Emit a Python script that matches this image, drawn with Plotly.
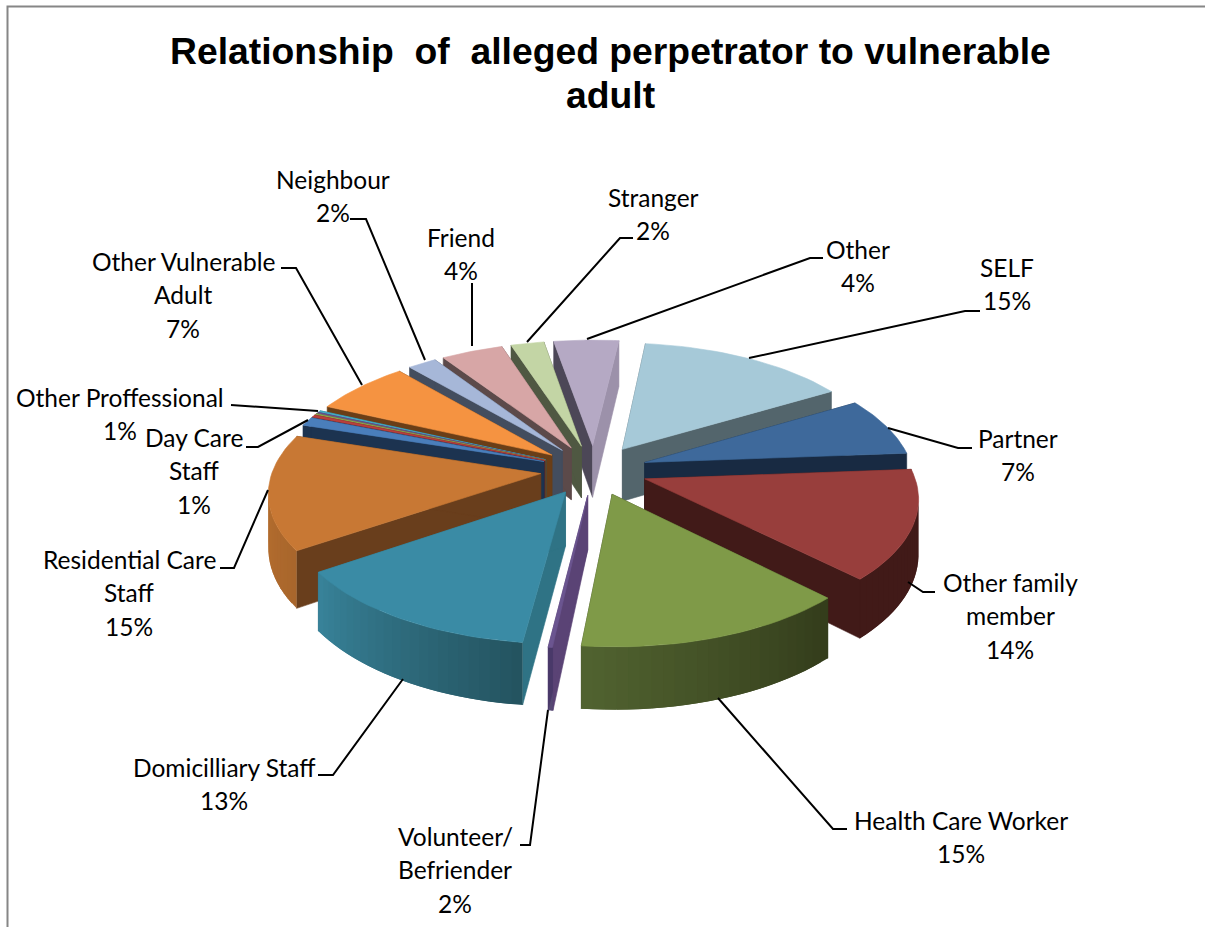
import math
import plotly.graph_objects as go

# ---- data -------------------------------------------------------------
categories = ["SELF", "Partner", "Other family member", "Health Care Worker",
              "Volunteer/ Befriender", "Domicilliary Staff", "Residential Care Staff",
              "Day Care Staff", "Unlabelled A", "Unlabelled B", "Unlabelled C",
              "Other Proffessional", "Other Vulnerable Adult", "Neighbour",
              "Friend", "Stranger", "Other"]
values = [14.6, 7.4, 13.8, 14.1, 0.25, 13.5, 14.54, 1.1, 0.28, 0.17, 0.17, 0.22, 6.8, 2.0, 4.3, 2.3, 4.5]

top_colors = ["#A6C9D8", "#3E699B", "#983E3C", "#7F9A48", "#6B5590", "#3A8BA5", "#C87834",
              "#4A7EBB", "#B8403D", "#8FA84F", "#6B5590", "#46AAC5", "#F59341", "#A6B7D8",
              "#D7A6A6", "#C3D5A5", "#B5A9C4"]
rad_start = ["#53656C", "#182A42", "#411A18", "#333C1B", "#5A4375", "#2F7385", "#693E1C",
             "#1C3350", "#6E2020", "#55652B", "#3F2F58", "#1F6070", "#6A3E17", "#434D5E",
             "#5C4A4A", "#4F5842", "#4C4757"]
rad_end = ["#53656C", "#182A42", "#411A18", "#333C1B", "#5A4375", "#2F7385", "#693E1C",
           "#1C3350", "#6E2020", "#55652B", "#3F2F58", "#1F6070", "#6A3E17", "#434D5E",
           "#5C4A4A", "#4F5842", "#9C91AA"]
wall_a = ["#53656C", "#182A42", "#411A18", "#333C1B", "#4A3A6A", "#24535F", "#A9662C",
          "#1C3350", "#6E2020", "#55652B", "#3F2F58", "#1F6070", "#6A3E17", "#434D5E",
          "#5C4A4A", "#4F5842", "#4C4757"]
wall_b = ["#53656C", "#182A42", "#411A18", "#516330", "#4A3A6A", "#38839A", "#C07530",
          "#1C3350", "#6E2020", "#55652B", "#3F2F58", "#1F6070", "#6A3E17", "#434D5E",
          "#5C4A4A", "#4F5842", "#4C4757"]

title_lines = ["Relationship\u00a0 of\u00a0 alleged perpetrator to vulnerable", "adult"]
label_lines = [["SELF", "15%"], ["Partner", "7%"], ["Other family", "member", "14%"],
               ["Health Care Worker", "15%"], ["Volunteer/", "Befriender", "2%"],
               ["Domicilliary Staff", "13%"], ["Residential Care", "Staff", "15%"],
               ["Day Care", "Staff", "1%"], ["Other Proffessional", "1%"],
               ["Other Vulnerable", "Adult", "7%"], ["Neighbour", "2%"], ["Friend", "4%"],
               ["Stranger", "2%"], ["Other", "4%"]]

# ---- layout geometry --------------------------------------------------
label_pos = [(1007, 267), (1018, 438), (1010, 582), (961, 820), (455, 836), (224, 767),
             (129, 559), (194, 437), (120, 397), (183, 261), (333, 179), (461, 237),
             (653, 197), (858, 249)]
LINE_H = 33.5
leaders = [[(980, 311), (965, 311), (749, 358)], [(972, 448), (958, 448), (888, 428)],
           [(935, 592), (923, 592), (908, 582)], [(847, 829), (833, 829), (718, 698)],
           [(520, 845), (530, 845), (548, 710)], [(318, 775), (333, 775), (403, 679)],
           [(220, 568), (234, 568), (268, 490)], [(246, 447), (258, 447), (308, 420)],
           [(231, 405), (318, 411)], [(281, 268), (296, 268), (362, 385)],
           [(350, 219), (366, 219), (425, 360)], [(472, 283), (472, 346)],
           [(633, 238), (620, 238), (527, 342)], [(823, 258), (810, 258), (587, 339)]]

CX, CY, R, K, P, EXPL, H = 594, 470, 268, 0.468, 0.132, 0.2, 53
START_DEG = 6.5
N = 24


def project(x, y, drop=0.0):
    f = 1 / (1 - P * y)
    return CX + R * x * f, CY + R * K * y * f + drop * f


def hex2rgb(c):
    return tuple(int(c[i:i + 2], 16) for i in (1, 3, 5))


def mix(a, b, t):
    ra, rb = hex2rgb(a), hex2rgb(b)
    return "rgb(%d,%d,%d)" % tuple(round(ra[i] + (rb[i] - ra[i]) * t) for i in range(3))


total = sum(values)
slices = []
acc = START_DEG
for i, v in enumerate(values):
    sweep = v / total * 360
    slices.append((i, math.radians(acc), math.radians(acc + sweep)))
    acc += sweep

fig = go.Figure()


def poly(pts, color, width=0.6):
    xs = [p[0] for p in pts] + [pts[0][0]]
    ys = [p[1] for p in pts] + [pts[0][1]]
    fig.add_trace(go.Scatter(x=xs, y=ys, mode="lines", fill="toself", fillcolor=color,
                             line=dict(color=color, width=width), hoverinfo="skip",
                             showlegend=False))


def mid(s):
    return (s[1] + s[2]) / 2


for i, a0, a1 in sorted(slices, key=lambda s: -math.cos(mid(s))):
    am = (a0 + a1) / 2
    ax, ay = EXPL * math.sin(am), -EXPL * math.cos(am)

    def pt(a, drop=0.0):
        return project(ax + math.sin(a), ay - math.cos(a), drop)

    apex_t, apex_b = project(ax, ay), project(ax, ay, H)
    poly([apex_t, pt(a0), pt(a0, H), apex_b], rad_start[i])
    poly([apex_t, pt(a1), pt(a1, H), apex_b], rad_end[i])
    step = (a1 - a0) / N
    for j in range(N):
        b0 = a0 + step * j
        b1 = min(a1, b0 + 2 * step)
        if pt(b0 + step)[0] < pt(b0)[0]:
            poly([pt(b0), pt((b0 + b1) / 2), pt(b1), pt(b1, H), pt((b0 + b1) / 2, H), pt(b0, H)],
                 mix(wall_a[i], wall_b[i], (j + .5) / N), width=0)
    poly([apex_t] + [pt(a0 + step * j) for j in range(N + 1)], top_colors[i])

shapes = [dict(type="path", path="M 1205 6.5 L 7.5 6.5 L 7.5 927", line=dict(color="#868686", width=2))]
for line in leaders:
    path = "M " + " L ".join("%g %g" % p for p in line)
    shapes.append(dict(type="path", path=path, line=dict(color="#000000", width=2)))

annotations = []
for k, t in enumerate(title_lines):
    annotations.append(dict(x=610, y=51 + 44 * k, text="<b>%s</b>" % t, showarrow=False, xref="x", yref="y",
                            font=dict(family="Liberation Sans", size=37.3, color="#000000")))
for (x, y), lines in zip(label_pos, label_lines):
    for k, t in enumerate(lines):
        annotations.append(dict(x=x, y=y + LINE_H * k, text=t, showarrow=False, xref="x", yref="y",
                                font=dict(family="Lato", size=24.5, color="#000000")))

fig.update_layout(width=1205, height=927, autosize=False, margin=dict(l=0, r=0, t=0, b=0, pad=0),
                  paper_bgcolor="#FFFFFF", plot_bgcolor="#FFFFFF", showlegend=False,
                  xaxis=dict(range=[0, 1205], visible=False, fixedrange=True),
                  yaxis=dict(range=[927, 0], visible=False, fixedrange=True),
                  shapes=shapes, annotations=annotations)
fig.write_html("out.html", config=dict(displayModeBar=False),
               post_script="document.body.style.margin='0';")
